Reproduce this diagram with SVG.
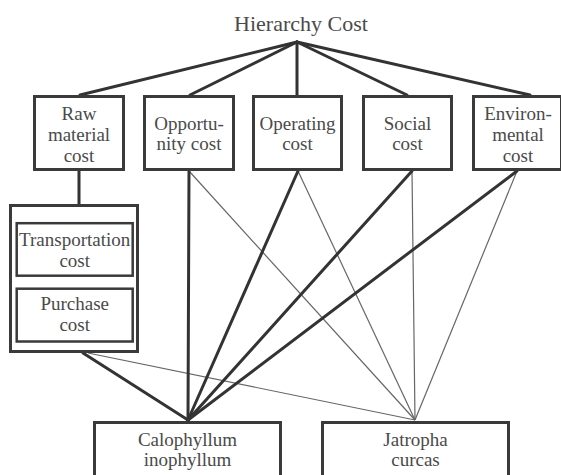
<svg xmlns="http://www.w3.org/2000/svg" width="561" height="475" viewBox="0 0 561 475">
<style>
.box{fill:#fff;stroke:#3a3a3a;stroke-width:3}
.inner{fill:#fff;stroke:#3a3a3a;stroke-width:2.5}
text{font-family:'Liberation Serif','DejaVu Serif',serif;fill:#4a4a4a;text-anchor:middle}
.t{font-size:19px}
.title{font-size:22px}
.thick{stroke:#333;stroke-width:3;fill:none;stroke-linecap:round}
.thin{stroke:#666;stroke-width:1.2;fill:none}
</style>
<rect width="561" height="475" fill="#fff"/>
<g id="connectors">
<line class="thick" x1="297" y1="42" x2="80" y2="95"/>
<line class="thick" x1="297" y1="42" x2="190" y2="95"/>
<line class="thick" x1="297" y1="42" x2="297" y2="95"/>
<line class="thick" x1="297" y1="42" x2="407" y2="95"/>
<line class="thick" x1="297" y1="42" x2="530" y2="95"/>
<line class="thick" x1="79" y1="171" x2="79" y2="204"/>
<line class="thin" x1="88" y1="353" x2="415" y2="420"/>
<line class="thin" x1="189" y1="171" x2="415" y2="420"/>
<line class="thin" x1="298" y1="171" x2="415" y2="420"/>
<line class="thin" x1="412" y1="171" x2="415" y2="420"/>
<line class="thin" x1="517" y1="171" x2="415" y2="420"/>
<line class="thick" x1="83" y1="353" x2="188" y2="420"/>
<line class="thick" x1="189" y1="171" x2="188" y2="420"/>
<line class="thick" x1="298" y1="171" x2="188" y2="420"/>
<line class="thick" x1="412" y1="171" x2="188" y2="420"/>
<line class="thick" x1="517" y1="171" x2="188" y2="420"/>
</g>
<g id="title"><text class="title" x="301" y="31" font-family="Liberation Serif, serif">Hierarchy Cost</text></g>
<g id="raw">
<rect class="box" x="34.5" y="96.5" width="89" height="73"/>
<text class="t" x="79" y="120">Raw</text>
<text class="t" x="79" y="141">material</text>
<text class="t" x="79" y="162">cost</text>
</g>
<g id="opportunity">
<rect class="box" x="144.5" y="96.5" width="89" height="73"/>
<text class="t" x="189" y="130">Opportu-</text>
<text class="t" x="189" y="150">nity cost</text>
</g>
<g id="operating">
<rect class="box" x="253.5" y="96.5" width="88" height="73"/>
<text class="t" x="297.5" y="130">Operating</text>
<text class="t" x="297.5" y="150">cost</text>
</g>
<g id="social">
<rect class="box" x="363.5" y="96.5" width="88" height="73"/>
<text class="t" x="407.5" y="130">Social</text>
<text class="t" x="407.5" y="150">cost</text>
</g>
<g id="environmental">
<rect class="box" x="473.5" y="96.5" width="88" height="73"/>
<text class="t" x="518" y="120">Environ-</text>
<text class="t" x="518" y="141">mental</text>
<text class="t" x="518" y="162">cost</text>
</g>
<g id="raw-detail">
<rect class="box" x="10.5" y="205.5" width="127" height="146"/>
</g>
<g id="transportation">
<rect class="inner" x="16.7" y="223.2" width="116" height="52.5"/>
<text class="t" x="74.7" y="246">Transportation</text>
<text class="t" x="74.7" y="267">cost</text>
</g>
<g id="purchase">
<rect class="inner" x="16.7" y="288.7" width="116" height="52.8"/>
<text class="t" x="74.7" y="310">Purchase</text>
<text class="t" x="74.7" y="331">cost</text>
</g>
<g id="calophyllum">
<rect class="box" x="94.5" y="422.5" width="186" height="60"/>
<text class="t" x="187.5" y="446">Calophyllum</text>
<text class="t" x="187.5" y="466">inophyllum</text>
</g>
<g id="jatropha">
<rect class="box" x="322.5" y="422.5" width="186" height="60"/>
<text class="t" x="415.5" y="446">Jatropha</text>
<text class="t" x="415.5" y="466">curcas</text>
</g>
</svg>
